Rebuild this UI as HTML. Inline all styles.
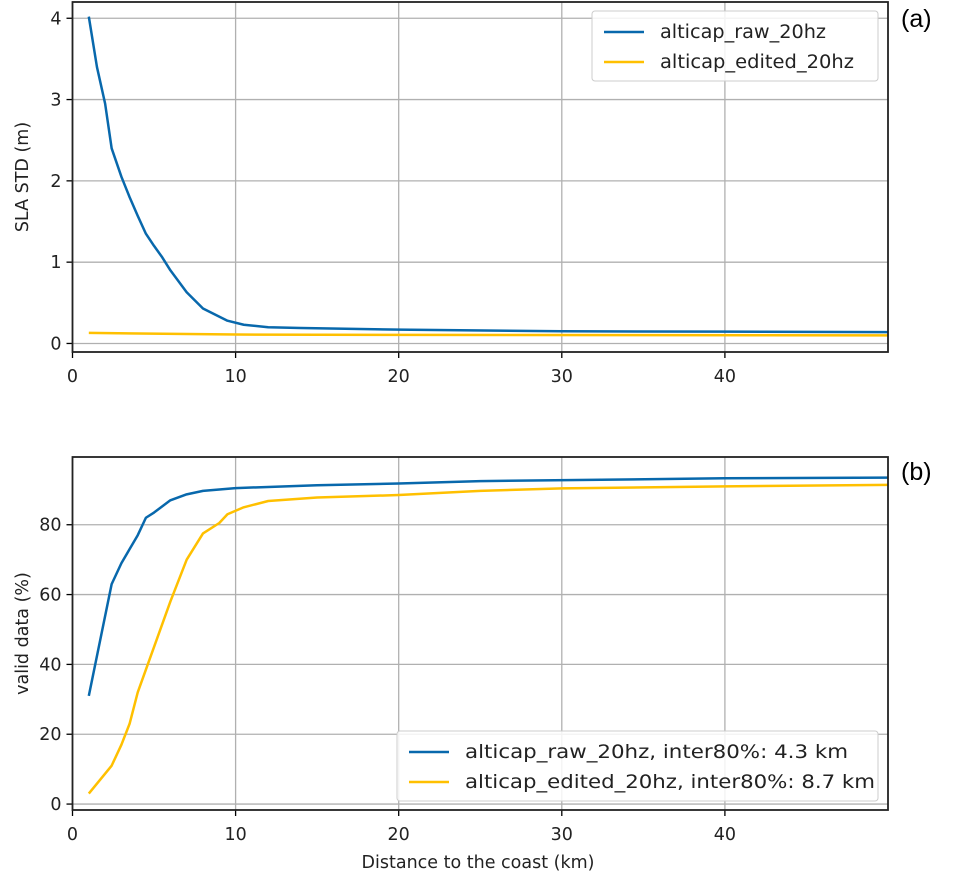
<!DOCTYPE html>
<html><head><meta charset="utf-8"><style>
html,body{margin:0;padding:0;background:#fff;}
svg{display:block;font-family:"DejaVu Sans","Liberation Sans",sans-serif;}
</style></head><body>
<svg id="c" width="965" height="889"></svg>
<script>
const topX=[1,1.5,2,2.4,3,3.5,4,4.5,5,5.5,6,7,8,9.5,10.5,12,14,20,30,40,50];
const topRaw=[4.02,3.4,2.95,2.4,2.05,1.8,1.57,1.35,1.2,1.06,0.9,0.63,0.43,0.28,0.23,0.2,0.19,0.17,0.15,0.145,0.14];
const topEdX=[1,10,20,50];
const topEd=[0.13,0.11,0.105,0.1];
const botRawX=[1,2.4,3,3.5,4,4.5,5,6,7,8,10,15,20,25,40,50];
const botRaw=[31,63,69,73,77,82,83.5,87,88.7,89.7,90.5,91.3,91.8,92.5,93.3,93.5];
const botEdX=[1,2.4,3,3.5,4,5,6,7,8,9,9.5,10.5,12,15,20,25,30,40,50];
const botEd=[3,11,17,23,32,45,58,70,77.5,80.5,83,85,86.8,87.8,88.5,89.7,90.4,91,91.4];
const xTicks=[0,10,20,30,40];
const topYTicks=[0,1,2,3,4];
const botYTicks=[0,20,40,60,80];
const NS="http://www.w3.org/2000/svg";
const svg=document.getElementById('c');
function mk(t,a,p){const e=document.createElementNS(NS,t);for(const k in a)e.setAttribute(k,a[k]);(p||svg).appendChild(e);return e;}
const L=72.5,R=888;
const xs=v=>L+v*(R-L)/50;
const FS=17.5;
function panel(y0,y1,vmin,vmax,ticks,xsR,ys,xs2,ys2,ylab,pname){
  const sy=v=>y1-(v-vmin)/(vmax-vmin)*(y1-y0);
  const g=mk('g',{});
  
  
  xTicks.forEach(t=>{const l=mk('line',{x1:xs(t),x2:xs(t),y1:y0,y2:y1,stroke:'#b0b0b0','stroke-width':1.3},g);
    
    mk('line',{x1:xs(t),x2:xs(t),y1:y1,y2:y1+6,stroke:'#000','stroke-width':1.3},g);
    const tx=mk('text',{x:xs(t),y:y1+30,'text-anchor':'middle','font-size':FS,fill:'#222'},g);tx.textContent=t;
    });
  ticks.forEach(t=>{const l=mk('line',{x1:L,x2:R,y1:sy(t),y2:sy(t),stroke:'#b0b0b0','stroke-width':1.3},g);
    
    mk('line',{x1:L-6,x2:L,y1:sy(t),y2:sy(t),stroke:'#000','stroke-width':1.3},g);
    const tx=mk('text',{x:L-11,y:sy(t)+6,'text-anchor':'end','font-size':FS,fill:'#222'},g);tx.textContent=t;
    });
  const p1=mk('polyline',{points:xsR.map((x,i)=>xs(x)+','+sy(ys[i])).join(' '),fill:'none',stroke:'#0868ac','stroke-width':2.5,'stroke-linejoin':'round'},g);
  
  const p2=mk('polyline',{points:xs2.map((x,i)=>xs(x)+','+sy(ys2[i])).join(' '),fill:'none',stroke:'#ffc000','stroke-width':2.5,'stroke-linejoin':'round'},g);
  
  const f=mk('rect',{x:L,y:y0,width:R-L,height:y1-y0,fill:'none',stroke:'#222','stroke-width':1.8},g);
  
  const yl=mk('text',{transform:`translate(28,${(y0+y1)/2}) rotate(-90)`,'text-anchor':'middle','font-size':FS,fill:'#222'},g);yl.textContent=ylab;
  
}
panel(2,352,-0.105,4.2,topYTicks,topX,topRaw,topEdX,topEd,'SLA STD (m)','panel-a');
panel(457,810,-1.7,99.4,botYTicks,botRawX,botRaw,botEdX,botEd,'valid data (%)','panel-b');
function legend(x,y,w,h,items,name,fs,tw){
  const g=mk('g',{});
  
  
  mk('rect',{x:x,y:y,width:w,height:h,rx:3,fill:'#fff','fill-opacity':0.85,stroke:'#ccc'},g);
  items.forEach((it,i)=>{const cy=y+21+i*30;
    mk('line',{x1:x+12,x2:x+52,y1:cy,y2:cy,stroke:it[1],'stroke-width':2.5},g);
    const t=mk('text',{x:x+68,y:cy+6,'font-size':fs,fill:'#222'},g);t.textContent=it[0];
    if(tw[i]){t.setAttribute('textLength',tw[i]);t.setAttribute('lengthAdjust','spacingAndGlyphs');}
    });
}
legend(592,11,286,70,[['alticap_raw_20hz','#0868ac'],['alticap_edited_20hz','#ffc000']],'legend-a',18.5,[166,194]);
legend(397,731,481,70,[['alticap_raw_20hz, inter80%: 4.3 km','#0868ac'],['alticap_edited_20hz, inter80%: 8.7 km','#ffc000']],'legend-b',19,[383,410]);
const xl=mk('text',{x:478,y:868,'text-anchor':'middle','font-size':FS,fill:'#222'});xl.textContent='Distance to the coast (km)';

const a=mk('text',{x:901,y:27,'font-size':25,fill:'#000','font-family':'Liberation Sans'});a.textContent='(a)';

const b=mk('text',{x:901,y:480,'font-size':25,fill:'#000','font-family':'Liberation Sans'});b.textContent='(b)';

</script>
</body></html>
